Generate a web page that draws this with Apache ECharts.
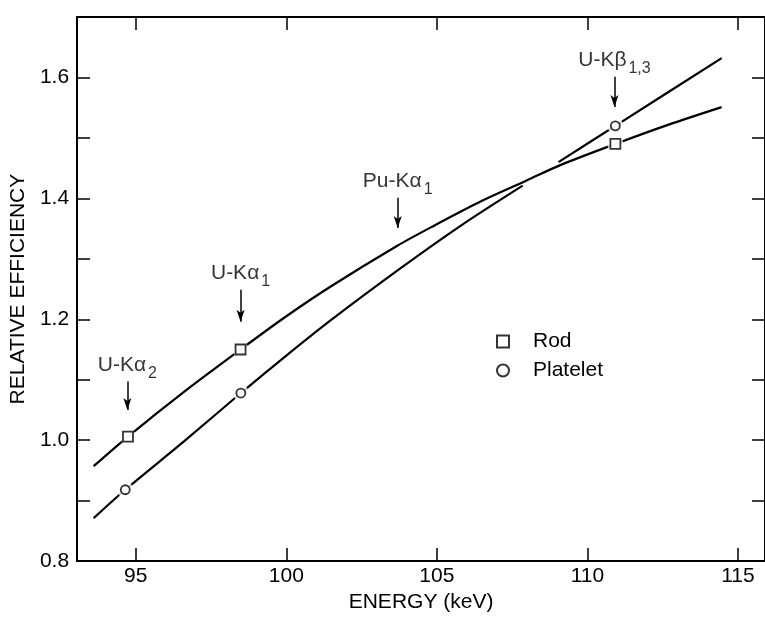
<!DOCTYPE html>
<html>
<head>
<meta charset="utf-8">
<script src="https://cdn.jsdelivr.net/npm/echarts@6/dist/echarts.min.js"></script>
<style>
  html, body { margin: 0; padding: 0; background: #fff; }
  #chart { width: 765px; height: 618px; }
</style>
</head>
<body>
<div id="chart"></div>
<script>
// rod curve (energy keV, relative efficiency)
var rodLine = [
  [93.6, 0.957], [94.74, 1.006], [96.6, 1.08], [98.48, 1.150], [100, 1.205],
  [101.5, 1.255], [103.7, 1.322], [104.8, 1.352], [106.5, 1.396],
  [108, 1.430], [109.1, 1.455], [110.93, 1.490], [112.7, 1.522], [114.46, 1.551]
];
// platelet curve, drawn in two pieces
var plateletLow = [
  [93.6, 0.871], [94.65, 0.918], [96.6, 0.998], [98.49, 1.078], [100, 1.14],
  [101.49, 1.199], [103.81, 1.285], [105.8, 1.355], [107.85, 1.421]
];
var plateletHigh = [
  [109.04, 1.46], [110.93, 1.52], [114.46, 1.632]
];
var rodPts = [[94.74, 1.006], [98.48, 1.150], [110.93, 1.490]];
var platPts = [[94.65, 0.918], [98.49, 1.078], [110.93, 1.520]];

// line annotations: label, subscript, x, arrow top, arrow tip
var lineNames = ['U-Kα', 'U-Kα', 'Pu-Kα', 'U-Kβ'];
var lineSubs = ['2', '1', '1', '1,3'];
var lineX = [94.72, 98.48, 103.7, 110.9];
var arrowTop = [1.097, 1.249, 1.401, 1.601];
var arrowTip = [1.050, 1.196, 1.351, 1.551];

var xTicks = [95, 100, 105, 110, 115];

var FONT = 'Liberation Sans';
var chart = echarts.init(document.getElementById('chart'));

var axisLineStyle = {color: '#000', width: 2};
var xBase = {
  type: 'value', min: 93.05, max: 115.9,
  axisLine: {show: true, onZero: false, lineStyle: axisLineStyle},
  axisTick: {show: true, inside: true, length: 13, customValues: xTicks, lineStyle: {color: '#000', width: 1.5}},
  splitLine: {show: false}
};
var yBase = {
  type: 'value', min: 0.8, max: 1.7, interval: 0.1,
  axisLine: {show: true, onZero: false, lineStyle: axisLineStyle},
  axisTick: {show: true, inside: true, length: 13, lineStyle: {color: '#000', width: 1.5}},
  splitLine: {show: false}
};

var lineSeries = function (data) {
  return {
    type: 'line', data: data, smooth: 0.3, symbol: 'none', silent: true,
    lineStyle: {color: '#000', width: 2.2}, z: 2
  };
};

var annoData = lineX.map(function (x, i) {
  return {value: [x, arrowTop[i]], name: lineNames[i], sub: lineSubs[i]};
});
var arrowLines = lineX.map(function (x, i) {
  return [{coord: [x, arrowTop[i]]}, {coord: [x, arrowTip[i]]}];
});

chart.setOption({
  animation: false,
  grid: {left: 75, right: 0, top: 17, bottom: 56},
  legend: {
    data: ['Rod', 'Platelet'], orient: 'vertical', left: 491, top: 326,
    itemWidth: 12, itemHeight: 12, itemGap: 8,
    textStyle: {fontFamily: FONT, fontSize: 21, color: '#000', padding: [0, 0, 0, 19]}
  },
  xAxis: [
    Object.assign({}, xBase, {
      position: 'bottom',
      name: 'ENERGY (keV)', nameLocation: 'middle', nameGap: 30,
      nameTextStyle: {fontFamily: FONT, fontSize: 21, color: '#000'},
      axisLabel: {show: true, customValues: xTicks, margin: 5, fontFamily: FONT, fontSize: 21, color: '#000'}
    }),
    Object.assign({}, xBase, {position: 'top', axisLabel: {show: false}})
  ],
  yAxis: [
    Object.assign({}, yBase, {
      position: 'left',
      name: 'RELATIVE EFFICIENCY', nameLocation: 'middle', nameGap: 39,
      nameTextStyle: {fontFamily: FONT, fontSize: 21, color: '#000'},
      axisLabel: {
        margin: 8, fontFamily: FONT, fontSize: 21, color: '#000',
        formatter: function (v) {
          return Math.round(v * 10) % 2 === 0 ? v.toFixed(1) : '';
        }
      }
    }),
    Object.assign({}, yBase, {position: 'right', axisLabel: {show: false}})
  ],
  series: [
    lineSeries(rodLine),
    lineSeries(plateletLow),
    lineSeries(plateletHigh),
    // white halo so the curve breaks around each marker
    {
      type: 'scatter', data: rodPts.concat(platPts), symbol: 'circle', symbolSize: 16,
      itemStyle: {color: '#fff'}, silent: true, z: 3
    },
    {
      name: 'Rod', type: 'scatter', data: rodPts, symbol: 'rect', symbolSize: 10,
      itemStyle: {color: '#fff', borderColor: '#000', borderWidth: 1.8}, z: 4
    },
    {
      name: 'Platelet', type: 'scatter', data: platPts, symbol: 'circle', symbolSize: 9,
      itemStyle: {color: '#fff', borderColor: '#000', borderWidth: 1.8}, z: 4
    },
    {
      type: 'scatter', data: annoData, symbolSize: 0, silent: true, z: 5,
      label: {
        show: true, position: 'top', distance: 6,
        formatter: function (p) {
          return '{m|' + p.data.name + '}{s|' + p.data.sub + '}';
        },
        rich: {
          m: {fontFamily: FONT, fontSize: 21, color: '#000'},
          s: {fontFamily: FONT, fontSize: 16, color: '#000', verticalAlign: 'bottom', padding: [0, 0, -6, 2]}
        }
      },
      markLine: {
        silent: true, symbol: ['none', 'arrow'], symbolSize: [6, 12],
        label: {show: false},
        lineStyle: {color: '#000', width: 1.5, type: 'solid'},
        data: arrowLines
      }
    }
  ]
});
</script>
</body>
</html>
